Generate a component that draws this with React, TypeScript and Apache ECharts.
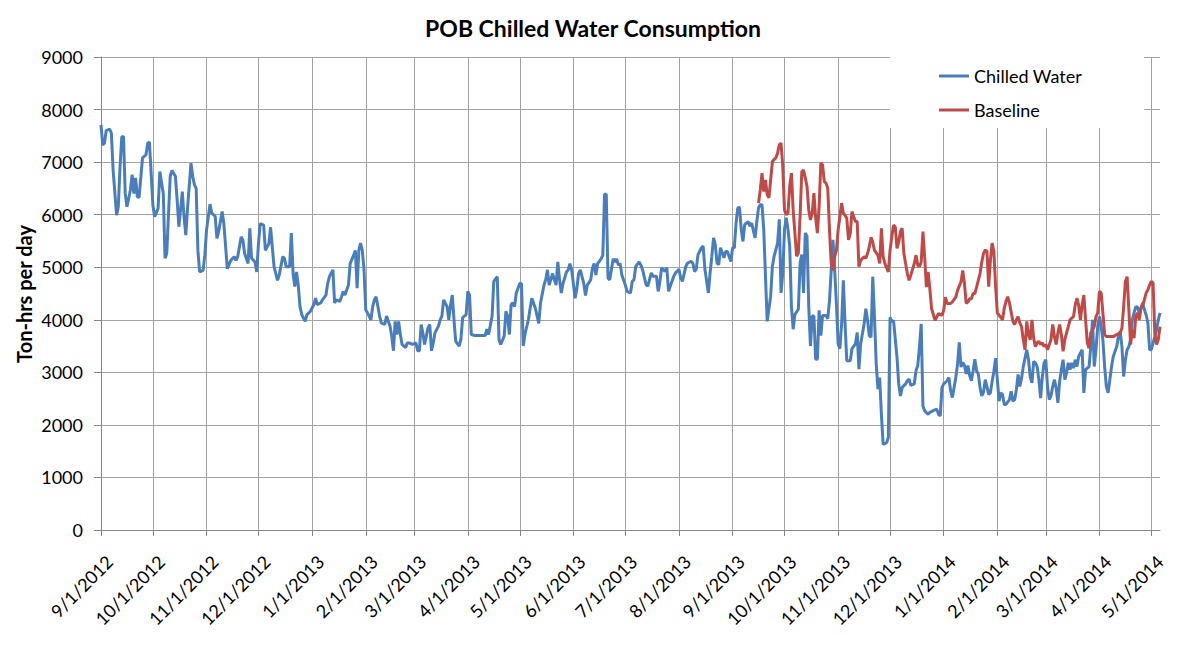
import React, { useEffect, useRef } from "react";
import * as echarts from "echarts";

const FONT = "Lato, 'Open Sans', 'DejaVu Sans', sans-serif";
const START_UTC = Date.UTC(2012, 8, 1); // 9/1/2012
const DAY_COUNT = 613; // 9/1/2012 .. 5/6/2014

const monthTickLabels = [
  "9/1/2012", "10/1/2012", "11/1/2012", "12/1/2012",
  "1/1/2013", "2/1/2013", "3/1/2013", "4/1/2013", "5/1/2013", "6/1/2013",
  "7/1/2013", "8/1/2013", "9/1/2013", "10/1/2013", "11/1/2013", "12/1/2013",
  "1/1/2014", "2/1/2014", "3/1/2014", "4/1/2014", "5/1/2014",
];

// [days since 9/1/2012, ton-hrs per day]
const chilledWater: [number, number][] = [
  [0,7710],[1,7330],[2,7360],[3,7600],[5,7630],[6,7550],[7,6850],[9,5990],[10,6150],[11,6920],[12,7480],[13,7490],[14,6400],[15,6150],[17,6470],[18,6760],[19,6400],[20,6700],[21,6340],[22,6330],[24,7080],[26,7140],[27,7360],[28,7380],[30,6180],[31,5960],[33,6120],[34,6820],[36,6400],[37,5170],[38,5260],[40,6730],[41,6840],[43,6730],[44,6280],[45,5770],[47,6440],[48,5960],[49,5610],[50,6120],[52,6980],[53,6730],[54,6570],[55,6500],[56,5320],[57,4910],[59,4940],[60,5230],[61,5710],[63,6200],[64,6030],[66,5970],[67,5550],[68,5680],[70,6060],[71,5830],[73,4970],[75,5130],[77,5200],[78,5130],[79,5200],[81,5580],[82,5520],[83,5260],[85,5070],[86,5740],[87,5170],[89,5100],[90,4910],[91,5450],[92,5830],[94,5800],[95,5320],[97,5450],[98,5760],[100,5010],[102,4750],
  [103,4850],[105,5200],[106,5170],[107,5010],[109,5010],[110,5650],[111,4880],[112,4630],[113,4910],[114,4660],[115,4250],[116,4100],[118,3970],[119,4100],[121,4160],[123,4290],[124,4410],[125,4290],[127,4320],[128,4380],[130,4470],[131,4690],[132,4820],[134,4950],[135,4320],[136,4380],[138,4350],[139,4440],[140,4540],[141,4470],[143,4660],[144,5070],[146,5230],[147,5320],[148,4600],[149,5320],[150,5460],[151,5320],[152,4950],[153,4190],[154,4130],[156,4000],[157,4250],[158,4380],[159,4440],[161,4070],[162,3940],[164,3910],[165,4070],[167,3880],[168,3690],[169,3410],[170,3970],[171,3720],[172,3970],[173,3720],[174,3530],[176,3470],[177,3560],[178,3560],[180,3530],[182,3560],[183,3410],[184,3410],[185,3910],[186,3750],[187,3530],[189,3850],[190,3910],[191,3410],[192,3560],[193,3750],[195,3880],[196,4000],[197,4070],[198,4380],[200,4250],[201,4000],[202,4280],[203,4470],[204,4000],[205,3590],[207,3500],
  [208,3630],[209,4040],[211,4100],[212,4540],[213,4470],[214,3720],[216,3700],[219,3700],[222,3700],[223,3820],[224,3720],[226,4070],[227,4730],[229,4820],[230,3630],[231,3530],[233,3690],[234,4160],[235,4070],[236,3720],[237,4290],[238,4320],[239,4250],[240,4510],[242,4690],[243,4690],[244,3500],[245,3720],[247,4000],[248,4220],[249,4410],[251,4220],[253,3930],[254,4320],[256,4660],[257,4760],[258,4950],[259,4660],[261,4880],[262,4760],[263,4660],[264,5100],[265,4760],[266,4510],[267,4690],[269,4910],[270,4950],[271,5070],[272,4950],[274,4410],[275,4600],[276,4880],[277,4950],[279,4690],[280,4460],[281,4660],[283,4760],[284,4980],[285,5070],[286,4850],[287,5070],[289,5160],[290,5230],[291,6390],[292,6390],[293,4790],[294,4760],[296,5160],[297,5100],[298,5160],[299,5040],[300,5070],[301,4850],[303,4660],[304,4540],[306,4510],[307,4730],[308,4760],[309,5010],[311,5100],[312,5040],[313,4950],
  [315,4670],[316,4640],[318,4890],[319,4830],[321,4830],[322,4540],[323,4730],[324,4990],[326,4920],[327,4990],[328,4540],[329,4640],[331,4830],[332,4890],[334,4960],[335,4800],[336,4730],[338,5020],[339,5080],[341,5110],[342,5080],[343,4920],[344,4960],[345,5240],[347,5370],[348,5400],[349,4960],[351,4510],[352,4890],[353,5210],[354,5560],[355,5430],[356,5080],[357,5050],[358,5370],[360,5180],[361,5300],[362,5300],[364,5110],[365,5370],[366,5370],[367,5840],[368,6130],[369,6140],[370,5720],[371,5490],[372,5810],[374,5870],[375,5780],[376,5840],[378,5560],[379,5870],[380,6130],[381,6190],[382,6190],[383,5720],[384,4830],[385,3970],[387,4450],[388,5020],[389,5210],[391,5460],[392,5910],[393,4510],[394,4890],[395,5720],[396,5940],[397,5720],[398,5400],[399,4260],[400,3820],[401,4100],[403,4200],[404,5080],[405,5240],[406,4510],[407,5650],[408,5590],[409,4260],[410,3500],[411,4070],[412,4070],[413,3250],[414,3250],[415,4180],[416,3700],[417,4080],
  [418,4080],[419,4080],[420,4020],[421,4370],[422,4940],[423,5520],[424,4940],[425,4310],[426,3540],[427,3450],[428,3920],[429,4750],[430,3920],[431,3220],[433,3220],[434,3450],[436,3540],[437,3760],[438,3060],[439,3540],[441,3920],[442,4210],[443,3990],[444,3700],[445,3670],[446,4820],[447,4050],[448,3160],[449,2680],[450,2900],[451,2200],[452,1630],[454,1660],[455,1760],[456,4050],[457,3960],[458,3990],[460,3290],[461,2780],[462,2550],[463,2710],[465,2780],[466,2840],[467,2870],[468,2750],[470,2780],[471,3030],[472,3130],[473,3480],[474,3920],[475,2360],[476,2270],[478,2200],[479,2240],[481,2270],[483,2300],[484,2200],[485,2170],[486,2710],[487,2780],[489,2840],[490,2900],[491,2650],[492,2520],[494,2900],[495,3160],[496,3570],[497,3100],[498,3190],[499,3130],[500,2970],[501,3130],[502,2940],[503,2840],[504,3030],[505,3250],[506,3030],[507,2970],[508,2710],[509,2550],[510,2620],
  [511,2860],[512,2730],[513,2580],[514,2610],[515,2830],[516,3020],[517,3270],[518,2860],[519,2450],[520,2610],[521,2580],[522,2390],[523,2390],[525,2480],[526,2640],[527,2450],[528,2480],[529,2670],[530,2960],[531,2730],[532,2890],[533,3110],[534,3270],[535,3430],[536,3240],[537,2920],[538,2800],[539,3210],[540,3180],[541,3110],[542,2860],[543,2510],[544,2920],[545,3180],[546,3240],[547,2730],[548,2480],[549,2550],[550,2730],[551,2860],[552,2700],[553,2420],[554,2830],[555,3050],[556,3240],[557,2860],[558,2990],[559,3180],[560,3050],[561,3180],[562,3080],[563,3240],[564,3110],[565,3300],[566,3370],[567,3430],[568,2610],[569,3050],[570,3080],[571,3110],[572,3490],[573,4000],[574,3110],[575,3430],[576,3870],[577,4060],[578,3870],[579,3620],[580,3110],[581,2730],[582,2610],[583,2860],[584,3110],[585,3300],[587,3490],[588,3680],[589,3780],[590,3490],[591,2920],[592,3240],[593,3430],[594,3490],[595,3620],[596,4000],[597,4130],[598,4250],[599,4240],[600,4130],[602,4320],[603,4190],[604,4090],[605,3940],[606,3430],[607,3430],[608,3560],[609,3680],[610,3810],[611,4000],[612,4130],
];

// [days since 9/1/2012, ton-hrs per day]
const baseline: [number, number][] = [
  [380,6220],[381,6470],[382,6790],[383,6440],[384,6660],[385,6380],[386,6320],[387,6660],[388,7010],[389,7050],[390,7080],[391,7170],[392,7330],[393,7360],[394,6920],[395,6090],[396,6000],[397,6030],[398,6540],[399,6790],[400,6090],[402,5210],[403,5270],[404,5970],[405,6820],[406,6850],[407,6700],[408,6540],[409,6090],[410,5900],[411,6030],[412,6410],[413,5940],[414,5650],[415,6150],[416,6980],[417,6950],[418,6630],[419,6600],[420,6500],[421,5710],[422,5070],[423,4940],[424,5200],[425,5320],[426,5710],[427,5960],[428,6220],[429,6030],[430,5990],[431,5930],[432,5520],[433,5640],[434,6060],[435,5960],[436,5870],[437,5870],[438,5010],[439,5130],[441,5200],[442,5170],[443,5260],[444,5390],[445,5570],[446,5480],[447,5320],[449,5230],[450,5070],[451,5740],[452,5200],[453,5070],[455,4910],[456,5320],[457,5580],[458,5800],[459,5770],[460,5360],[461,5480],[462,5680],[463,5740],[464,5260],[466,4880],[467,4750],[468,4850],[470,5070],[471,5230],[472,5040],[473,5010],[474,5100],[475,5680],[476,5200],[477,4620],[478,4910],[479,4590],[480,4210],[482,3990],[484,4120],[486,4080],[487,4180],[488,4430],[489,4310],[491,4310],[492,4340],[494,4430],[495,4560],[497,4720],[498,4940],[499,4690],[500,4310],[501,4340],[502,4400],[503,4400],[504,4500],[505,4500],[506,4620],[508,4880],[509,5100],[510,5260],
  [511,5330],[512,5300],[513,4630],[514,5140],[515,5460],[516,5300],[517,4630],[518,4130],[519,4090],[521,4000],[522,4220],[523,4350],[524,4440],[525,4320],[527,3970],[528,3910],[529,4000],[530,4060],[531,3940],[532,3870],[533,3620],[534,3430],[535,3970],[536,3720],[537,3620],[538,4000],[539,3650],[540,3490],[541,3560],[542,3590],[543,3530],[544,3560],[545,3490],[546,3530],[547,3430],[549,3620],[550,3910],[551,3680],[552,3530],[553,3750],[554,3910],[555,3720],[556,3400],[557,3620],[558,3750],[559,3870],[560,4000],[561,4030],[562,4060],[563,4280],[564,4410],[565,4280],[566,4000],[567,4280],[568,4470],[569,4000],[570,3560],[571,3460],[572,3750],[574,3870],[575,4060],[576,4130],[577,4540],[578,4510],[579,4130],[580,3720],[581,3680],[583,3680],[585,3680],[587,3720],[589,3750],[590,3840],[591,4250],[592,4730],[593,4820],[594,4190],[595,3530],[596,3810],[597,3650],[598,4060],[599,4130],[600,4000],[601,4220],[602,4280],[603,4380],[604,4510],[605,4570],[606,4660],[607,4730],[608,4700],[609,3750],[610,3530],[611,3620],[612,3870],
];

function dayLabel(i: number): string {
  const d = new Date(START_UTC + i * 86400000);
  return `${d.getUTCMonth() + 1}/${d.getUTCDate()}/${d.getUTCFullYear()}`;
}

const categories: string[] = Array.from({ length: DAY_COUNT }, (_, i) => dayLabel(i));
const monthSet = new Set(monthTickLabels);
const isMonthStart = (_index: number, value: string) => monthSet.has(value);

function toDaily(points: [number, number][]): (number | null)[] {
  const arr: (number | null)[] = new Array(DAY_COUNT).fill(null);
  points.forEach(([d, v]) => {
    arr[d] = v;
  });
  return arr;
}

const BLUE = "#4A7EBB";
const RED = "#BE4B48";
const GRID = "#a3a3a3";
const AXIS = "#868686";

export default function App() {
  const ref = useRef<HTMLDivElement>(null);

  useEffect(() => {
    if (!ref.current) return;
    const chart = echarts.init(ref.current, undefined, { renderer: "svg" });
    chart.setOption({
      animation: false,
      backgroundColor: "#ffffff",
      textStyle: { fontFamily: FONT },
      title: {
        text: "POB Chilled Water Consumption",
        left: "center",
        top: 16,
        padding: 0,
        textStyle: { fontSize: 23, fontWeight: "bold", color: "#000", fontFamily: FONT },
      },
      grid: { left: 101, right: 26, top: 57, bottom: 132, containLabel: false },
      legend: {
        orient: "vertical",
        left: 890,
        top: 57,
        padding: [10, 62, 9, 49],
        backgroundColor: "#ffffff",
        itemWidth: 30,
        itemHeight: 3,
        itemGap: 16,
        icon: "rect",
        textStyle: { fontSize: 18, color: "#000", fontFamily: FONT },
        data: ["Chilled Water", "Baseline"],
      },
      xAxis: {
        type: "category",
        data: categories,
        boundaryGap: false,
        axisLine: { show: true, lineStyle: { color: AXIS, width: 1 } },
        axisTick: { show: true, interval: isMonthStart, length: 6, lineStyle: { color: AXIS } },
        axisLabel: {
          interval: isMonthStart,
          rotate: 45,
          fontSize: 18,
          color: "#000",
          margin: 37,
          padding: [0, -12, 0, 0],
          fontFamily: FONT,
        },
        splitLine: { show: true, interval: isMonthStart, lineStyle: { color: GRID, width: 1 } },
      },
      yAxis: {
        type: "value",
        min: 0,
        max: 9000,
        interval: 1000,
        axisLine: { show: true, lineStyle: { color: AXIS, width: 1 } },
        axisTick: { show: true, length: 7, lineStyle: { color: AXIS } },
        axisLabel: {
          fontSize: 18,
          color: "#000",
          margin: 18,
          fontFamily: FONT,
          formatter: (v: number) => String(v),
        },
        splitLine: { show: true, lineStyle: { color: GRID, width: 1 } },
      },
      graphic: [
        {
          type: "text",
          x: 24,
          y: 294,
          rotation: Math.PI / 2,
          style: {
            text: "Ton-hrs per day",
            fontSize: 20,
            fontWeight: "bold",
            fontFamily: FONT,
            fill: "#000",
            align: "center",
            verticalAlign: "middle",
            textAlign: "center",
            textVerticalAlign: "middle",
          },
        },
      ],
      series: [
        {
          name: "Chilled Water",
          type: "line",
          data: toDaily(chilledWater),
          connectNulls: true,
          showSymbol: false,
          symbol: "none",
          lineStyle: { color: BLUE, width: 3 },
          itemStyle: { color: BLUE },
        },
        {
          name: "Baseline",
          type: "line",
          data: toDaily(baseline),
          connectNulls: true,
          showSymbol: false,
          symbol: "none",
          lineStyle: { color: RED, width: 3 },
          itemStyle: { color: RED },
        },
      ],
    });
    return () => chart.dispose();
  }, []);

  return (
    <div
      ref={ref}
      style={{ position: "fixed", left: 0, top: 0, width: 1186, height: 662, background: "#fff" }}
    />
  );
}
